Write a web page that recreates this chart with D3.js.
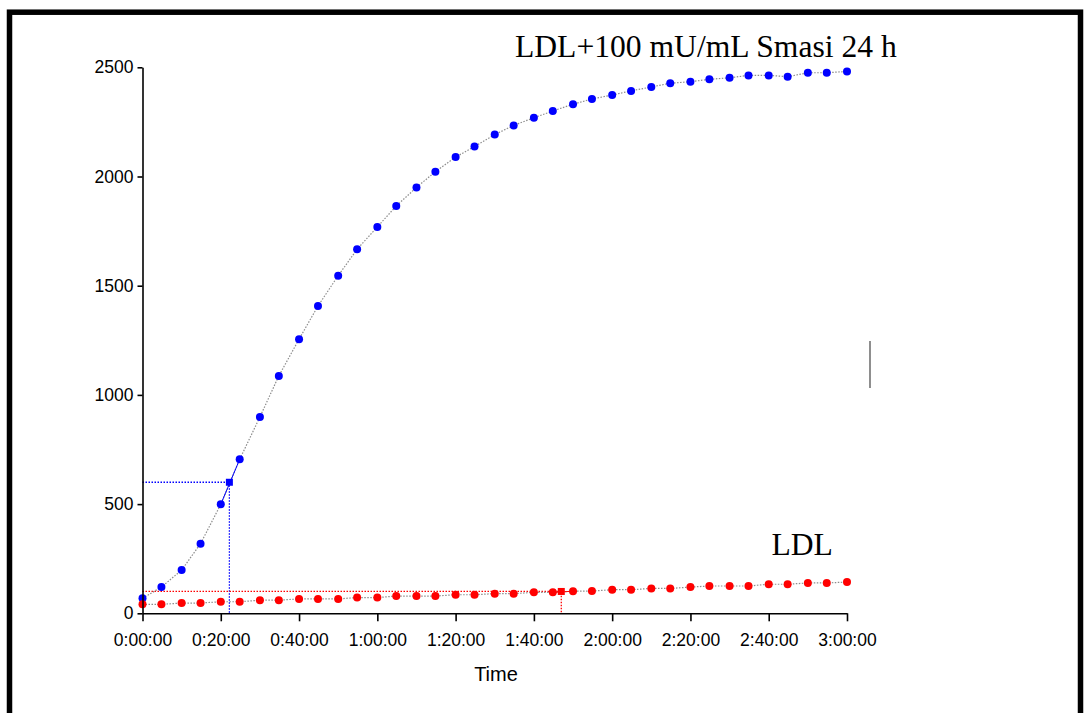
<!DOCTYPE html>
<html>
<head>
<meta charset="utf-8">
<script src="https://cdn.jsdelivr.net/npm/d3@7"></script>
<style>
  body { margin: 0; background: #fff; }
  svg { display: block; }
  .tick text { font-family: "Liberation Sans", Arial, sans-serif; font-size: 17.5px; fill: #000; }
</style>
</head>
<body>
<div id="chart"></div>
<script>
// measurement times (h:mm:ss)
var times = ["0:00:00", "0:04:50", "0:10:00", "0:14:50", "0:20:00", "0:24:50", "0:30:00", "0:34:50",
  "0:40:00", "0:44:50", "0:50:00", "0:54:50", "1:00:00", "1:04:50", "1:10:00", "1:14:50",
  "1:20:00", "1:24:50", "1:30:00", "1:34:50", "1:40:00", "1:44:50", "1:50:00", "1:54:50",
  "2:00:00", "2:04:50", "2:10:00", "2:14:50", "2:20:00", "2:24:50", "2:30:00", "2:34:50",
  "2:40:00", "2:44:50", "2:50:00", "2:54:50", "3:00:00"];

var smasi = [69, 120, 198, 319, 499, 705, 899, 1087, 1255, 1407, 1546, 1667, 1769, 1865, 1950, 2022,
  2089, 2137, 2192, 2234, 2269, 2300, 2331, 2355, 2373, 2392, 2410, 2427, 2434, 2445, 2452, 2463,
  2463, 2457, 2475, 2475, 2481];

var ldl = [41, 41, 47, 47, 53, 53, 60, 60, 66, 66, 66, 72, 72, 79, 79, 79, 85, 85, 90, 90,
  96, 96, 101, 102, 108, 108, 114, 114, 120, 125, 125, 125, 133, 133, 139, 139, 143];

// threshold crossings
var smasiCross = { time: "0:22:12", value: 600 };
var ldlCross = { time: "1:47:00", value: 100 };

var yTicks = [0, 500, 1000, 1500, 2000, 2500];
var xTicks = ["0:00:00", "0:20:00", "0:40:00", "1:00:00", "1:20:00", "1:40:00", "2:00:00", "2:20:00", "2:40:00", "3:00:00"];

var width = 1086, height = 713;

function toSec(s) {
  var p = s.split(":").map(Number);
  return p[0] * 3600 + p[1] * 60 + p[2];
}
function fmtTime(sec) {
  var h = Math.floor(sec / 3600), m = Math.floor(sec % 3600 / 60), s = sec % 60;
  return h + ":" + (m < 10 ? "0" : "") + m + ":" + (s < 10 ? "0" : "") + s;
}

var svg = d3.select("#chart").append("svg")
  .attr("width", width)
  .attr("height", height);

// frame
svg.append("rect")
  .attr("x", 9.5).attr("y", 12.2)
  .attr("width", 1071).attr("height", 800)
  .attr("fill", "none")
  .attr("stroke", "#000")
  .attr("stroke-width", 5.5);

var x = d3.scaleLinear().domain([0, 10800]).range([142.5, 847]);
var y = d3.scaleLinear().domain([0, 2500]).range([613.3, 67.3]);

var series = [
  { values: smasi, color: "#0000ff", cross: smasiCross, seg: [4, 5] },
  { values: ldl, color: "#ff0000", cross: ldlCross, seg: [21, 22] }
];

var line = d3.line()
  .x(function(d) { return x(d.t); })
  .y(function(d) { return y(d.v); });

series.forEach(function(s) {
  s.points = s.values.map(function(v, i) { return { t: toSec(times[i]), v: v }; });
});

// threshold guides
series.forEach(function(s) {
  var cx = x(toSec(s.cross.time)), cy = y(s.cross.value);
  svg.append("path")
    .attr("d", "M" + x(0) + "," + cy + "H" + cx + "V" + y(0))
    .attr("fill", "none")
    .attr("stroke", s.color)
    .attr("stroke-width", 1.3)
    .attr("stroke-dasharray", "1.5,1.5");
});

// connecting lines
series.forEach(function(s) {
  svg.append("path")
    .datum(s.points)
    .attr("d", line)
    .attr("fill", "none")
    .attr("stroke", "#8c8c8c")
    .attr("stroke-width", 1.2)
    .attr("stroke-dasharray", "1.5,1.5");
  svg.append("path")
    .datum(s.points.slice(s.seg[0], s.seg[1] + 1))
    .attr("d", line)
    .attr("fill", "none")
    .attr("stroke", s.color)
    .attr("stroke-width", 1);
});

// markers
series.forEach(function(s) {
  svg.append("g").selectAll("circle")
    .data(s.points)
    .enter().append("circle")
    .attr("cx", function(d) { return x(d.t); })
    .attr("cy", function(d) { return y(d.v); })
    .attr("r", 4)
    .attr("fill", s.color);
  svg.append("rect")
    .attr("x", x(toSec(s.cross.time)) - 3.5)
    .attr("y", y(s.cross.value) - 3.5)
    .attr("width", 7).attr("height", 7)
    .attr("fill", s.color);
});

// axes
var yAxis = svg.append("g")
  .attr("transform", "translate(" + x(0) + ",0)")
  .call(d3.axisLeft(y).tickValues(yTicks).tickFormat(d3.format("d"))
    .tickSize(5).tickSizeOuter(0).tickPadding(4));

var xAxis = svg.append("g")
  .attr("transform", "translate(0," + y(0) + ")")
  .call(d3.axisBottom(x).tickValues(xTicks.map(toSec)).tickFormat(fmtTime)
    .tickSize(8).tickSizeOuter(0).tickPadding(6));

svg.selectAll(".domain, .tick line").attr("stroke", "#000").attr("stroke-width", 1.6);
xAxis.selectAll(".tick text").attr("dy", "1.05em");

svg.append("text")
  .attr("x", 496).attr("y", 681)
  .attr("text-anchor", "middle")
  .style("font-family", "Liberation Sans, Arial, sans-serif")
  .style("font-size", "20px")
  .text("Time");

// series labels
svg.append("text")
  .attr("x", 515).attr("y", 57.3)
  .style("font-family", "Liberation Serif, Times New Roman, serif")
  .style("font-size", "31.6px")
  .text("LDL+100 mU/mL Smasi 24 h");

svg.append("text")
  .attr("x", 771.5).attr("y", 555)
  .style("font-family", "Liberation Serif, Times New Roman, serif")
  .style("font-size", "31.6px")
  .text("LDL");

// stray marker line at right
svg.append("line")
  .attr("x1", 870).attr("x2", 870)
  .attr("y1", 341).attr("y2", 388)
  .attr("stroke", "#444")
  .attr("stroke-width", 1.2);
</script>
</body>
</html>
